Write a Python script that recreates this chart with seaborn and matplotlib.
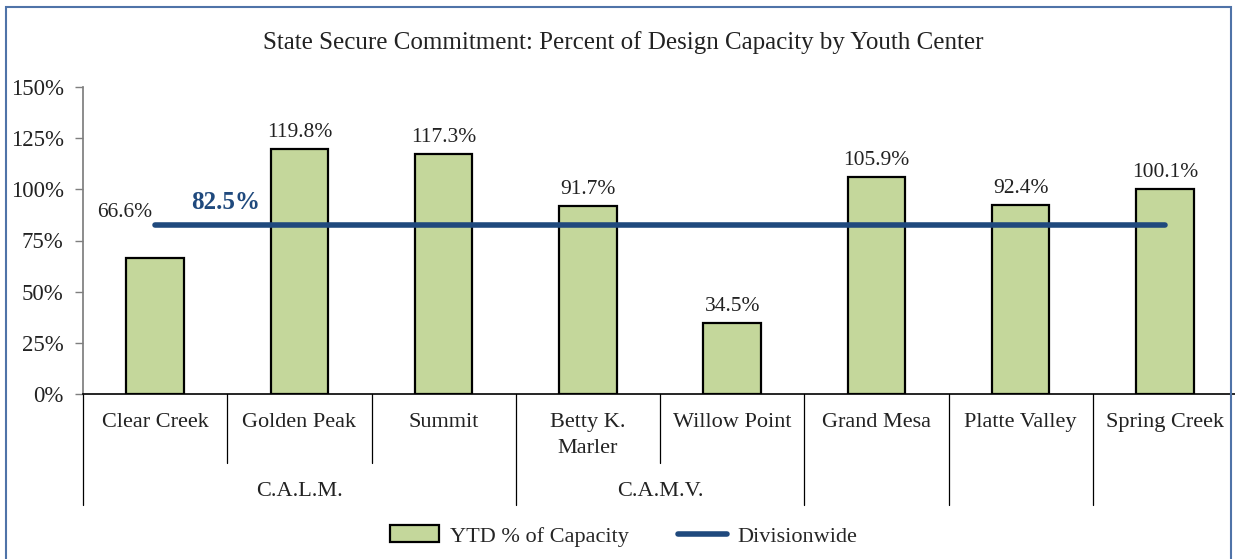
import numpy as np
import pandas as pd
import matplotlib
matplotlib.use("Agg")
import matplotlib.pyplot as plt
import matplotlib.transforms as mtransforms
from matplotlib.patches import Rectangle, Patch
from matplotlib.lines import Line2D
import seaborn as sns

sns.set_theme(style="white")
plt.rcParams['font.family'] = ['Liberation Serif', 'DejaVu Serif']

# --- data ---
centers = ['Clear Creek', 'Golden Peak', 'Summit', 'Betty K.\nMarler', 'Willow Point',
           'Grand Mesa', 'Platte Valley', 'Spring Creek']
capacity = [66.6, 119.8, 117.3, 91.7, 34.5, 105.9, 92.4, 100.1]
divisionwide = [82.5] * len(centers)
groups = ['C.A.L.M.', 'C.A.M.V.', '', '', '']
group_sizes = [3, 2, 1, 1, 1]
yticks = [0, 25, 50, 75, 100, 125, 150]

bar_color = '#C4D79B'
line_color = '#1F497D'
text_color = '#222222'

df = pd.DataFrame({'center': centers, 'capacity': capacity})

fig = plt.figure(figsize=(12.35, 5.59), dpi=100)
ax = fig.add_axes([83 / 1235, 1 - 394 / 559, 1154 / 1235, 307 / 559])

sns.barplot(data=df, x='center', y='capacity', color=bar_color, saturation=1,
            edgecolor='black', linewidth=1.6, width=0.4, ax=ax)

xpos = np.arange(len(centers))
ax.plot(xpos, divisionwide, color=line_color, lw=4, solid_capstyle='round', zorder=3)

# data labels
for i, v in enumerate(capacity):
    if i == 0:
        ax.annotate(f'{v:.1f}%', (i, divisionwide[0]), xytext=(-22, 2),
                    textcoords='offset points', ha='center', va='bottom',
                    fontsize=15.5, color=text_color)
    else:
        ax.annotate(f'{v:.1f}%', (i, v), xytext=(0, 5), textcoords='offset points',
                    ha='center', va='bottom', fontsize=15.5, color=text_color)
ax.annotate(f'{divisionwide[0]:.1f}%', (0, divisionwide[0]), xytext=(51, 8),
            textcoords='offset points', ha='center', va='bottom', fontsize=18,
            fontweight='bold', color=line_color)

ax.set_ylim(0, 150)
ax.set_xlim(-0.5, len(centers) - 0.5)
ax.set_yticks(yticks)
ax.set_yticklabels([f'{t}%' for t in yticks], fontsize=16.5, color=text_color)
ax.tick_params(axis='y', left=True, length=6, width=1, color='#7f7f7f', pad=8)
ax.set_xticks(xpos)
ax.set_xticklabels(centers, fontsize=16, color=text_color, linespacing=1.5)
ax.tick_params(axis='x', length=0, pad=14)
ax.set_xlabel('')
ax.set_ylabel('')
for s in ['top', 'right']:
    ax.spines[s].set_visible(False)
ax.spines['left'].set_color('#7f7f7f')
ax.spines['bottom'].set_color('black')
ax.spines['bottom'].set_linewidth(1.2)

# multi-level category dividers
trans = mtransforms.blended_transform_factory(ax.transData, ax.transAxes)
edges = np.cumsum([0] + group_sizes) - 0.5
for b in np.arange(len(centers) + 1) - 0.5:
    y_end = -0.362 if b in edges else -0.225
    ax.plot([b, b], [0, y_end], transform=trans, color='black', lw=0.9, clip_on=False)
for g, lo, hi in zip(groups, edges[:-1], edges[1:]):
    if g:
        ax.text((lo + hi) / 2, -0.316, g, transform=trans, ha='center', va='center',
                fontsize=16, color=text_color)

fig.text(0.505, 1 - 43 / 559, 'State Secure Commitment: Percent of Design Capacity by Youth Center',
         ha='center', va='center', fontsize=18, color=text_color)

handles = [Patch(facecolor=bar_color, edgecolor='black', linewidth=1.6),
           Line2D([0], [0], color=line_color, lw=4)]
fig.legend(handles, ['YTD % of Capacity', 'Divisionwide'], loc='center',
           bbox_to_anchor=(0.505, 1 - 536 / 559), ncol=2, frameon=False, fontsize=16,
           handlelength=2.2, handleheight=0.8, columnspacing=2.2, handletextpad=0.5)

fig.patches.append(Rectangle((6 / 1235, -0.05), 1225 / 1235, 1.05 - 7 / 559,
                             transform=fig.transFigure, fill=False,
                             edgecolor='#4F73A8', lw=1.5))

fig.savefig('out.png', dpi=100)
